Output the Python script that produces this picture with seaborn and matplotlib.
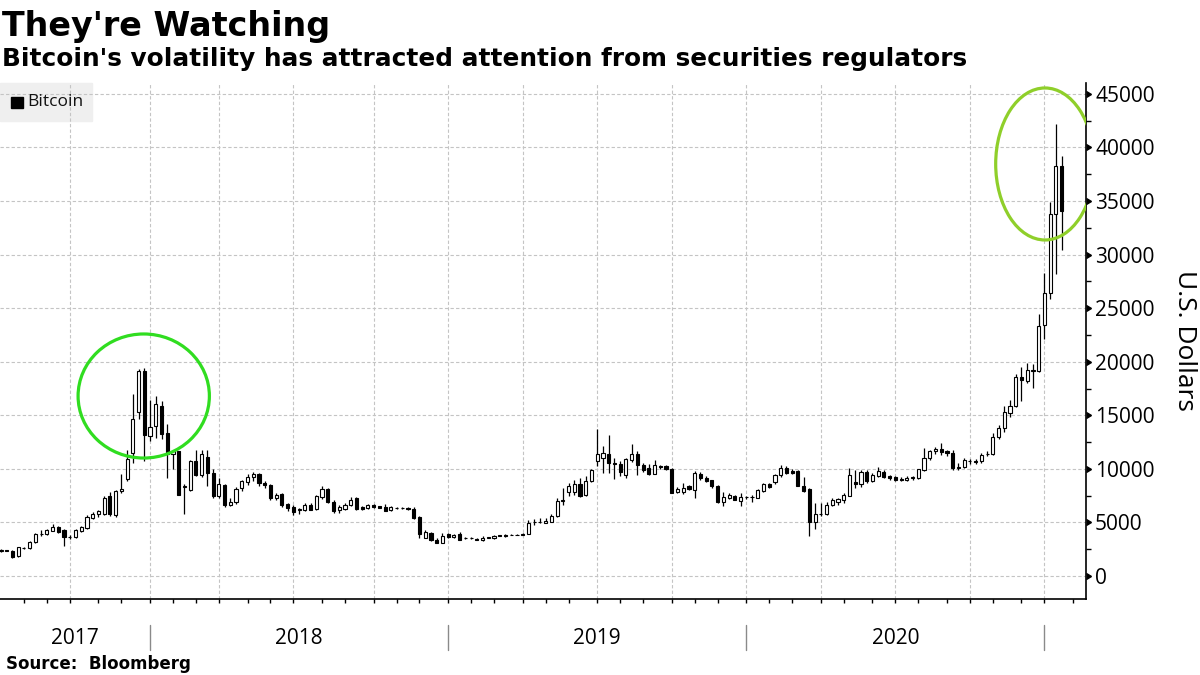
import numpy as np
import pandas as pd
import seaborn as sns
import matplotlib.pyplot as plt
import matplotlib.transforms as mtransforms
from matplotlib.patches import Ellipse, Rectangle
from matplotlib.ticker import MultipleLocator

# Weekly Bitcoin candles (USD), weeks ending Sunday, starting 2 Jul 2017
open_ = [2350, 2380, 2360, 1830, 2600, 2600, 3140, 3910, 3900, 4240,
         4550, 4300, 3620, 3620, 4240, 4480, 5410, 5790, 5790, 7440,
         5730, 7910, 9040, 11470, 15300, 19150, 13060, 14000, 15870, 13370,
         11370, 11650, 8300, 8070, 10720, 9470, 11100, 9630, 7440, 8470,
         6670, 6900, 8220, 8750, 9220, 9500, 8700, 8470, 7290, 7660,
         6720, 6410, 6150, 6200, 6670, 6250, 7400, 8160, 6910, 6200,
         6250, 6600, 7290, 6410, 6350, 6600, 6500, 6440, 6130, 6330,
         6310, 6350, 6250, 5480, 3540, 4010, 3390, 3070, 3910, 3630,
         3950, 3530, 3540, 3450, 3320, 3570, 3510, 3760, 3820, 3800,
         3820, 3950, 3950, 5030, 5020, 4980, 5040, 5570, 7000, 7820,
         7850, 8630, 7540, 8910, 10720, 11030, 11350, 10500, 10470, 9470,
         10810, 11400, 10320, 10040, 9530, 10250, 10220, 9940, 7820, 7820,
         8380, 8070, 9530, 9160, 8940, 8440, 6910, 7260, 7490, 7000,
         7330, 7340, 7290, 7910, 8630, 8780, 9380, 10040, 9800, 9780,
         8440, 8160, 5040, 5810, 5790, 6670, 6910, 7070, 7510, 8780,
         8540, 9720, 8850, 9350, 9720, 9350, 9250, 9090, 8940, 9150,
         9100, 9850, 10970, 11650, 11880, 11650, 11500, 10100, 10160, 10720,
         10700, 10700, 11380, 11400, 12940, 13850, 15220, 15870, 18590, 18220,
         19150, 19120, 23440, 26450, 33750, 38240]
high = [2550, 2420, 2420, 2750, 2700, 3250, 4000, 4260, 4350, 4860,
        4700, 4350, 3850, 4400, 4650, 5700, 5950, 6200, 7450, 7800,
        8000, 9480, 11800, 17000, 19360, 19430, 16430, 16800, 16340, 14200,
        11700, 11700, 8540, 10870, 11740, 11740, 11740, 9940, 9100, 8600,
        7300, 8300, 9000, 9500, 9750, 9650, 8900, 8600, 7750, 7750,
        6820, 6600, 6370, 6800, 6800, 7550, 8400, 8250, 7100, 6600,
        6800, 7400, 7350, 6500, 6700, 6700, 6550, 6700, 6500, 6420,
        6400, 6420, 6400, 5600, 4300, 4100, 3500, 4000, 4050, 3900,
        4100, 3650, 3600, 3500, 3700, 3650, 3850, 3800, 3880, 3880,
        3900, 4000, 5260, 5350, 5400, 5450, 5800, 7300, 8170, 8700,
        9000, 9100, 9300, 9950, 13750, 12130, 13150, 10970, 10700, 10970,
        12290, 11680, 10560, 10450, 10870, 10400, 10350, 10050, 8300, 8700,
        8450, 9780, 9700, 9300, 9000, 8500, 7800, 7700, 7600, 7700,
        7500, 7540, 8100, 8700, 8700, 9500, 10400, 10300, 10000, 9900,
        9200, 8200, 6820, 6820, 6900, 7250, 7250, 7750, 10040, 9930,
        9850, 9850, 9650, 10150, 9900, 9450, 9350, 9200, 9300, 9350,
        10000, 11970, 11800, 12000, 12380, 11800, 11800, 10500, 11000, 10950,
        10900, 11450, 11700, 13300, 14100, 15900, 16400, 18900, 19500, 19900,
        19770, 24480, 28300, 34870, 42180, 39170]
low = [2250, 2330, 1700, 1800, 2500, 2550, 3100, 3700, 3850, 4200,
       4000, 2800, 3450, 3550, 4150, 4400, 5300, 5500, 5700, 5600,
       5500, 7750, 8900, 10530, 14620, 10720, 12590, 12870, 12780, 9160,
       9970, 7540, 5790, 7900, 9300, 9200, 8380, 7290, 7290, 6420,
       6510, 6700, 7900, 8500, 8900, 8400, 8200, 7100, 7100, 6450,
       6100, 5660, 5780, 6100, 6150, 6200, 7200, 6850, 5900, 5900,
       6200, 6550, 6200, 6150, 6250, 6350, 6300, 6050, 6100, 6280,
       6260, 6150, 5300, 3540, 3500, 3300, 3050, 3050, 3550, 3550,
       3350, 3450, 3450, 3350, 3300, 3500, 3450, 3700, 3680, 3780,
       3800, 3780, 3900, 4730, 4950, 4900, 5000, 5500, 6600, 7500,
       7600, 7400, 7450, 8800, 10300, 9630, 9630, 9060, 9300, 9100,
       10600, 9410, 9700, 9450, 9500, 10000, 9900, 7700, 7700, 7650,
       8050, 7290, 9000, 8750, 8250, 6800, 6500, 7150, 7050, 6500,
       7200, 6860, 7250, 7850, 8250, 8600, 9200, 9550, 9550, 8400,
       7800, 3760, 4420, 5570, 5700, 6500, 6600, 6800, 7450, 8200,
       8300, 8700, 8750, 9200, 9100, 8950, 8900, 8900, 8900, 9000,
       9050, 9800, 10800, 11400, 11280, 11200, 9900, 9900, 10100, 10450,
       10450, 10500, 11200, 11300, 12800, 13400, 14800, 15800, 16300, 18000,
       17580, 19000, 22100, 25900, 28230, 30470]
close_ = [2400, 2360, 1780, 2670, 2620, 3140, 3910, 3950, 4300, 4550,
          4150, 3620, 3650, 4300, 4550, 5500, 5790, 6040, 7290, 5790,
          7910, 8160, 10900, 14650, 19100, 13150, 13900, 16060, 13250, 11350,
          11650, 7600, 8380, 10720, 9470, 11350, 9630, 7440, 8600, 6670,
          6900, 8160, 8850, 9220, 9500, 8690, 8500, 7290, 7600, 6600,
          6300, 5970, 6220, 6670, 6200, 7440, 8160, 6910, 6110, 6440,
          6600, 7130, 6290, 6250, 6600, 6410, 6350, 6100, 6440, 6370,
          6330, 6220, 5410, 3910, 4100, 3320, 3070, 3760, 3600, 3860,
          3390, 3540, 3520, 3400, 3570, 3580, 3760, 3740, 3700, 3830,
          3840, 3820, 4950, 5050, 5080, 5100, 5640, 7040, 7080, 8440,
          8630, 7490, 8910, 9850, 11350, 11500, 10560, 10440, 9720, 10880,
          11350, 10320, 9850, 9530, 10320, 10200, 9940, 7750, 8130, 8220,
          8160, 9630, 9100, 8850, 8380, 6910, 7350, 7540, 7120, 7350,
          7370, 7360, 8000, 8630, 8290, 9380, 10040, 9630, 9630, 8440,
          7910, 5040, 5820, 5780, 6670, 7060, 7140, 7600, 9380, 8540,
          9720, 8850, 9380, 9780, 9280, 9130, 8940, 8940, 9190, 9200,
          9940, 10970, 11650, 11880, 11560, 11500, 10050, 10160, 10780, 10740,
          10680, 11250, 11420, 13000, 13850, 15300, 15870, 18590, 18280, 19240,
          19250, 23350, 26450, 33750, 38240, 34040]

y_ticks = [0, 5000, 10000, 15000, 20000, 25000, 30000, 35000, 40000, 45000]
year_labels = ['2017', '2018', '2019', '2020']

weeks = pd.date_range('2017-07-02', periods=len(close_), freq='W-SUN')
df = pd.DataFrame({'week': weeks, 'open': open_, 'high': high,
                   'low': low, 'close': close_})
df['x'] = np.arange(len(df))
df['up'] = df['close'] >= df['open']

# tick positions: last weekly bar before each month / quarter / year starts
all_weeks = pd.date_range('2017-07-02', '2021-03-31', freq='W-SUN')
month_starts = pd.date_range('2017-08-01', '2021-02-01', freq='MS')
month_idx = all_weeks.searchsorted(month_starts) - 1
quarter_idx = [i for i, m in zip(month_idx, month_starts) if m.month in (1, 4, 7, 10)]
year_idx = [i for i, m in zip(month_idx, month_starts) if m.month == 1]

sns.set_theme(style='white')
plt.rcParams['font.family'] = ['Open Sans', 'DejaVu Sans']

fig = plt.figure(figsize=(12, 6.75), dpi=100)
ax = fig.add_axes([0, 1 - 599 / 675, 1085.7 / 1200, (599 - 83) / 675])
x_left, x_right = -0.17, 189.2
ax.set_xlim(x_left, x_right)
ax.set_ylim(-2150, 46020)

grid_kw = dict(color='#c4c4c4', lw=0.8, ls=(0, (3, 2)), zorder=1)
for v in y_ticks:
    ax.axhline(v, **grid_kw)
for q in quarter_idx:
    ax.axvline(q, **grid_kw)

# candles
ax.vlines(df['x'], df['low'], df['high'], color='black', lw=0.9, zorder=2)
body_low = df[['open', 'close']].min(axis=1)
body_h = (df['close'] - df['open']).abs().clip(lower=50)
ax.bar(df['x'], body_h, bottom=body_low, width=0.55,
       color=np.where(df['up'], 'white', 'black'),
       edgecolor='black', linewidth=0.8, zorder=3)

# highlight circles
ax.add_patch(Ellipse((24.9, 16800), width=22.9, height=11580, fill=False,
                     edgecolor='#30dd20', lw=2.3, zorder=5))
ax.add_patch(Ellipse((182.1, 38460), width=17.2, height=14190, fill=False,
                     edgecolor='#8fcf2a', lw=2.3, zorder=5))

# axes styling
sns.despine(ax=ax, left=True, top=True, right=False, bottom=False)
for side in ('right', 'bottom'):
    ax.spines[side].set_color('black')
    ax.spines[side].set_linewidth(1.2)
ax.yaxis.tick_right()
ax.set_yticks(y_ticks)
ax.set_yticklabels([str(v) for v in y_ticks])
ax.yaxis.set_minor_locator(MultipleLocator(2500))
ax.tick_params(axis='y', which='major', length=0, pad=6.7, labelsize=15,
               colors='black')
ax.tick_params(axis='y', which='minor', left=False, right=True, length=3.5,
               width=1, color='black', direction='out')
ax.set_xticks(month_idx)
ax.tick_params(axis='x', which='major', bottom=True, length=3, width=1,
               color='black', direction='out', labelbottom=False)

ytrans = mtransforms.blended_transform_factory(ax.transAxes, ax.transData)
ax.plot(np.ones(len(y_ticks)), y_ticks, transform=ytrans, ls='none',
        marker=9, ms=5, color='black', clip_on=False, zorder=6)

xtrans = mtransforms.blended_transform_factory(ax.transData, ax.transAxes)
for yi in year_idx:
    ax.plot([yi, yi], [-0.0504, -0.0988], transform=xtrans, color='#8a8a8a',
            lw=1, clip_on=False)
bounds = [x_left] + year_idx
for lab, a, b in zip(year_labels, bounds[:-1], bounds[1:]):
    ax.text((a + b) / 2, -0.0766, lab, transform=xtrans, ha='center',
            va='center', fontsize=15, color='black')

# legend box
ax.add_patch(Rectangle((0, 1 - 38 / 516), 92 / 1085.7, 38 / 516,
                       transform=ax.transAxes, color='#efefef', zorder=0.5,
                       clip_on=False))
ax.add_patch(Rectangle((11 / 1085.7, 1 - 25 / 516), 12 / 1085.7, 11 / 516,
                       transform=ax.transAxes, color='black', zorder=6))
ax.text(27 / 1085.7, 1 - 19.5 / 516, 'Bitcoin', transform=ax.transAxes,
        ha='left', va='center', fontsize=12.5, color='#111111', zorder=6)

fig.text(1185 / 1200, 1 - 340 / 675, 'U.S. Dollars', rotation=270,
         ha='center', va='center', fontsize=19, color='black')

fig.text(2 / 1200, 1 - 36 / 675, "They're Watching", family='DejaVu Sans',
         weight='bold', fontsize=24, va='baseline', color='black')
fig.text(2 / 1200, 1 - 66 / 675,
         "Bitcoin's volatility has attracted attention from securities regulators",
         family='DejaVu Sans', weight='bold', fontsize=17.8, va='baseline',
         color='black')
fig.text(6 / 1200, 1 - 669 / 675, 'Source:  Bloomberg', family='DejaVu Sans',
         weight='bold', fontsize=12, va='baseline', color='black')

fig.savefig('out.png', dpi=100, facecolor='white')
